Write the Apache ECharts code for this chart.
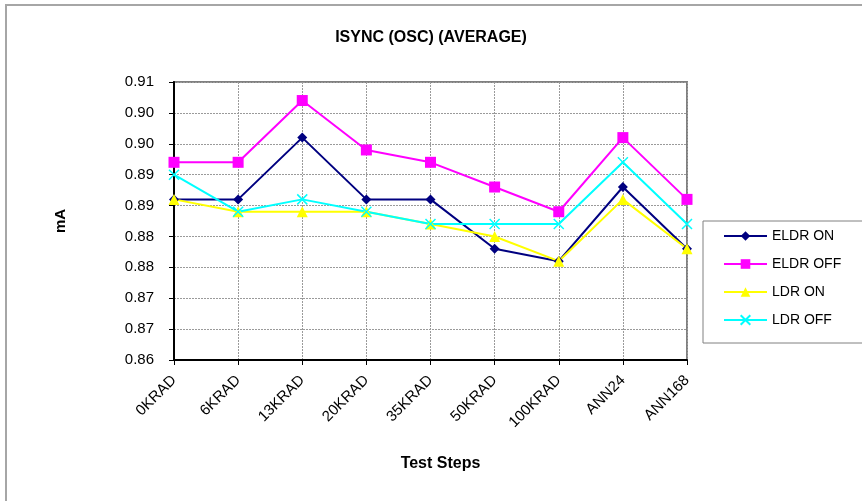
<!DOCTYPE html>
<html>
<head>
<meta charset="utf-8">
<script src="https://cdn.jsdelivr.net/npm/echarts@6/dist/echarts.min.js"></script>
<style>
  html, body { margin: 0; padding: 0; background: #fff; }
  #chart { width: 862px; height: 501px; }
</style>
</head>
<body>
<div id="chart"></div>
<script>
// test steps on x axis
const steps = ['0KRAD', '6KRAD', '13KRAD', '20KRAD', '35KRAD', '50KRAD', '100KRAD', 'ANN24', 'ANN168']

// series values (mA)
const eldrOn = [0.886, 0.886, 0.896, 0.886, 0.886, 0.878, 0.876, 0.888, 0.878]
const eldrOff = [0.892, 0.892, 0.902, 0.894, 0.892, 0.888, 0.884, 0.896, 0.886]
const ldrOn = [0.886, 0.884, 0.884, 0.884, 0.882, 0.880, 0.876, 0.886, 0.878]
const ldrOff = [0.890, 0.884, 0.886, 0.884, 0.882, 0.882, 0.882, 0.892, 0.882]

// y tick labels as printed (2 decimals, rounded)
const yTickLabels = ['0.86', '0.87', '0.87', '0.88', '0.88', '0.89', '0.89', '0.90', '0.90', '0.91']
const yMin = 0.86
const yStep = 0.005

const font = '"Liberation Sans", Arial, sans-serif'
const crossPath = 'path://M0,0L10,10M10,0L0,10'

let myChart = echarts.init(document.getElementById('chart'))

function mkSeries(name, data, color, symbol, size, extra) {
  return Object.assign({
    name: name,
    type: 'line',
    data: data,
    symbol: symbol,
    symbolSize: size,
    showSymbol: true,
    animation: false,
    lineStyle: { color: color, width: 2 },
    itemStyle: { color: color }
  }, extra || {})
}

var option = {
  animation: false,
  backgroundColor: '#fff',
  textStyle: { fontFamily: font },
  graphic: [
    {
      type: 'rect',
      shape: { x: 6, y: 5, width: 1000, height: 1000 },
      style: { fill: 'none', stroke: '#a6a6a6', lineWidth: 2 },
      z: -10
    }
  ],
  title: {
    text: 'ISYNC (OSC) (AVERAGE)',
    left: 'center',
    top: 25,
    textStyle: { fontSize: 16, fontWeight: 'bold', color: '#000', fontFamily: font }
  },
  grid: {
    left: 174,
    right: 175,
    top: 82,
    bottom: 141,
    show: true,
    borderColor: '#808080',
    borderWidth: 2,
    backgroundColor: '#fff'
  },
  legend: {
    orient: 'vertical',
    left: 703,
    top: 221,
    padding: [8, 40, 16, 20],
    itemWidth: 43,
    itemHeight: 12,
    itemGap: 14,
    backgroundColor: '#fff',
    borderColor: '#808080',
    borderWidth: 1,
    textStyle: { fontSize: 14, color: '#000', fontFamily: font },
    data: ['ELDR ON', 'ELDR OFF', 'LDR ON', 'LDR OFF']
  },
  xAxis: {
    type: 'category',
    data: steps,
    boundaryGap: false,
    name: 'Test Steps',
    nameLocation: 'middle',
    nameGap: 96,
    nameTextStyle: { fontSize: 16, fontWeight: 'bold', color: '#000', fontFamily: font, padding: [0, 0, 0, 20] },
    axisLine: { lineStyle: { color: '#000', width: 2 } },
    axisTick: { show: true, length: 5, lineStyle: { color: '#000' } },
    axisLabel: { rotate: 45, fontSize: 15, color: '#000', margin: 18, fontFamily: font },
    splitLine: { show: true, lineStyle: { color: '#9a9a9a', type: [2, 1], width: 1 } }
  },
  yAxis: {
    type: 'value',
    min: yMin,
    max: 0.905,
    interval: yStep,
    name: 'mA',
    nameLocation: 'middle',
    nameGap: 106,
    nameRotate: 90,
    nameTextStyle: { fontSize: 15, fontWeight: 'bold', color: '#000', fontFamily: font },
    axisLine: { show: true, lineStyle: { color: '#000', width: 2 } },
    axisTick: { show: true, length: 5, lineStyle: { color: '#000' } },
    axisLabel: {
      fontSize: 15,
      color: '#000',
      margin: 20,
      fontFamily: font,
      formatter: function(v) {
        return yTickLabels[Math.round((v - yMin) / yStep)]
      }
    },
    splitLine: { show: true, lineStyle: { color: '#9a9a9a', type: [2, 1], width: 1 } }
  },
  series: [
    mkSeries('ELDR ON', eldrOn, '#000080', 'diamond', 10),
    mkSeries('ELDR OFF', eldrOff, '#FF00FF', 'rect', 11),
    mkSeries('LDR ON', ldrOn, '#FFFF00', 'triangle', 11),
    mkSeries('LDR OFF', ldrOff, '#00FFFF', crossPath, 10, {
      itemStyle: { color: '#00FFFF', borderColor: '#00FFFF', borderWidth: 1.5 }
    })
  ]
}

myChart.setOption(option)
</script>
</body>
</html>
